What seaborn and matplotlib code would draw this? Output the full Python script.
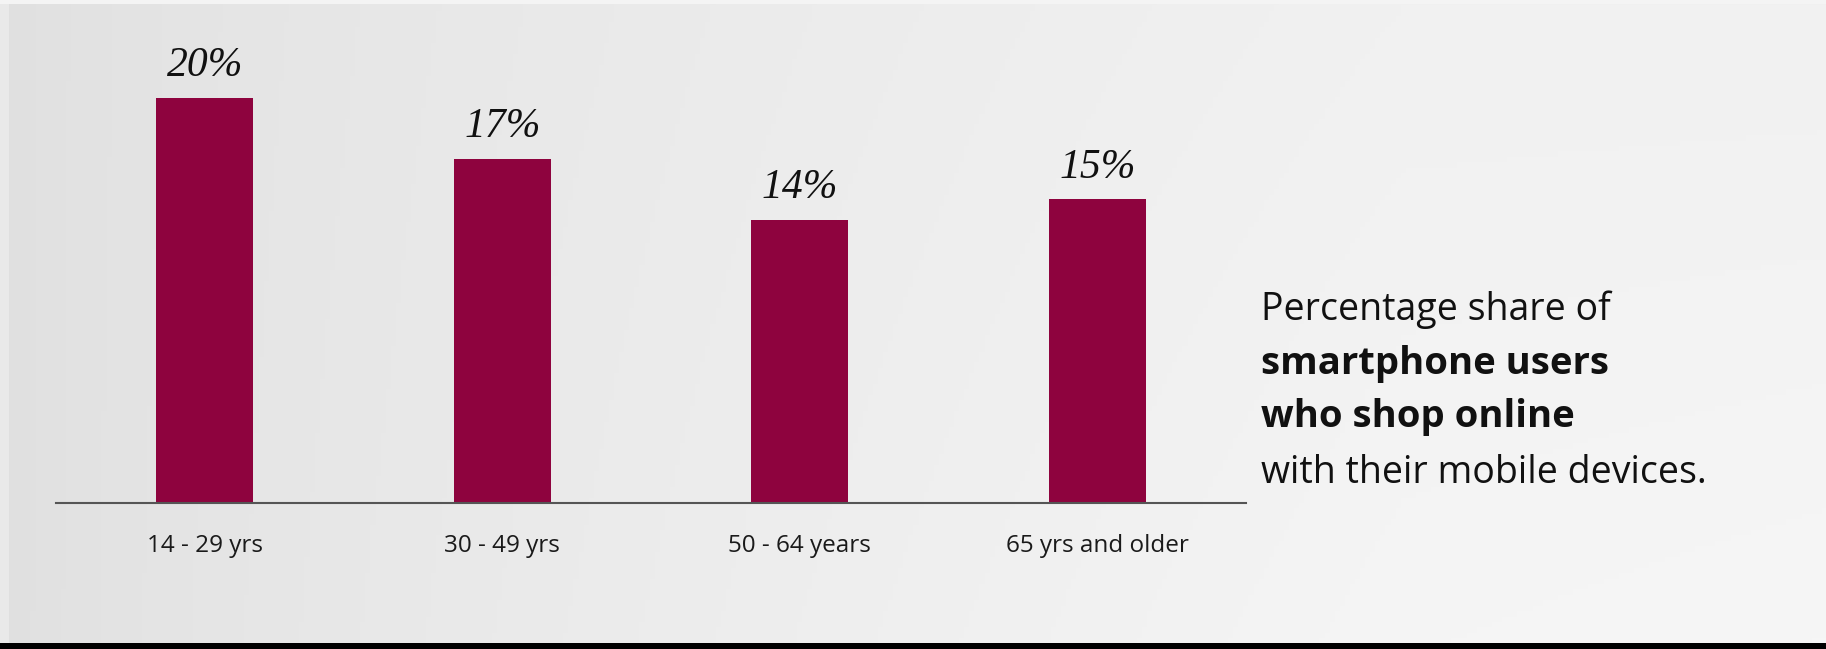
import numpy as np
import pandas as pd
import matplotlib
matplotlib.use("Agg")
import matplotlib.pyplot as plt
import seaborn as sns
from matplotlib.patches import Rectangle

# ---- data ----
categories = ["14 - 29 yrs", "30 - 49 yrs", "50 - 64 years", "65 yrs and older"]
shares = [20, 17, 14, 15]
value_labels = ["20%", "17%", "14%", "15%"]
caption_lines = ["Percentage share of", "smartphone users", "who shop online",
                 "with their mobile devices."]
caption_bold = [False, True, True, False]

BAR_COLOR = "#8E033E"

sns.set_theme(style="white")
plt.rcParams["font.family"] = ["Open Sans", "DejaVu Sans"]

W, H = 1826, 649
fig = plt.figure(figsize=(W / 100, H / 100), dpi=100)

# ---- background gradient ----
bg = fig.add_axes([0, 0, 1, 1])
bg.set_axis_off()
ny, nx = 120, 360
yy, xx = np.mgrid[0:1:ny * 1j, 0:1:nx * 1j]
val = 0.875 + 0.07 * np.clip(xx * 1.3, 0, 1) ** 0.6 + 0.02 * yy * xx
val = np.clip(val, 0, 1)
img = np.dstack([val, val, val])
bg.imshow(img, extent=[0, 1, 0, 1], aspect="auto", origin="upper", zorder=0)
bg.set_xlim(0, 1)
bg.set_ylim(0, 1)
# frame strips
bg.add_patch(Rectangle((0, 0), 9 / W, 1, color="#e9e9e9", zorder=1, lw=0))
bg.add_patch(Rectangle((0, 1 - 4 / H), 1, 4 / H, color="#f4f4f4", zorder=1, lw=0))
bg.add_patch(Rectangle((0, 0), 1, 6 / H, color="#000000", zorder=2, lw=0))

# ---- main axes ----
px_per_unit = (503 - 98) / 20.0
ymax = 22
ax_bottom = 1 - 503 / H
ax_height = ymax * px_per_unit / H
ax = fig.add_axes([56 / W, ax_bottom, 1190 / W, ax_height])
ax.patch.set_alpha(0)

df = pd.DataFrame({"age": categories, "share": shares})
sns.barplot(data=df, x="age", y="share", color=BAR_COLOR, saturation=1,
            width=0.325, ax=ax, zorder=3, linewidth=0, edgecolor="none")
ax.set_xlim(-0.5, 3.5)
ax.set_ylim(0, ymax)

for c in ax.containers:
    ax.bar_label(c, labels=value_labels, padding=9, fontsize=30,
                 family="Liberation Serif", style="italic", color="#111111")

for s in ["top", "right", "left"]:
    ax.spines[s].set_visible(False)
ax.spines["bottom"].set_color("#555555")
ax.spines["bottom"].set_linewidth(1.5)
ax.spines["bottom"].set_zorder(4)
ax.set_yticks([])
ax.set_xlabel("")
ax.set_ylabel("")
ax.tick_params(axis="x", length=0, pad=22, labelsize=17.5, labelcolor="#1a1a1a")

# ---- caption ----
baselines = [320, 374, 427, 483]
for line, bold, yb in zip(caption_lines, caption_bold, baselines):
    fig.text(1261 / W, 1 - yb / H, line, fontsize=27 if not bold else 27.5,
             fontweight="bold" if bold else "normal",
             va="baseline", ha="left", color="#111111")

fig.savefig("out.png", dpi=100)
